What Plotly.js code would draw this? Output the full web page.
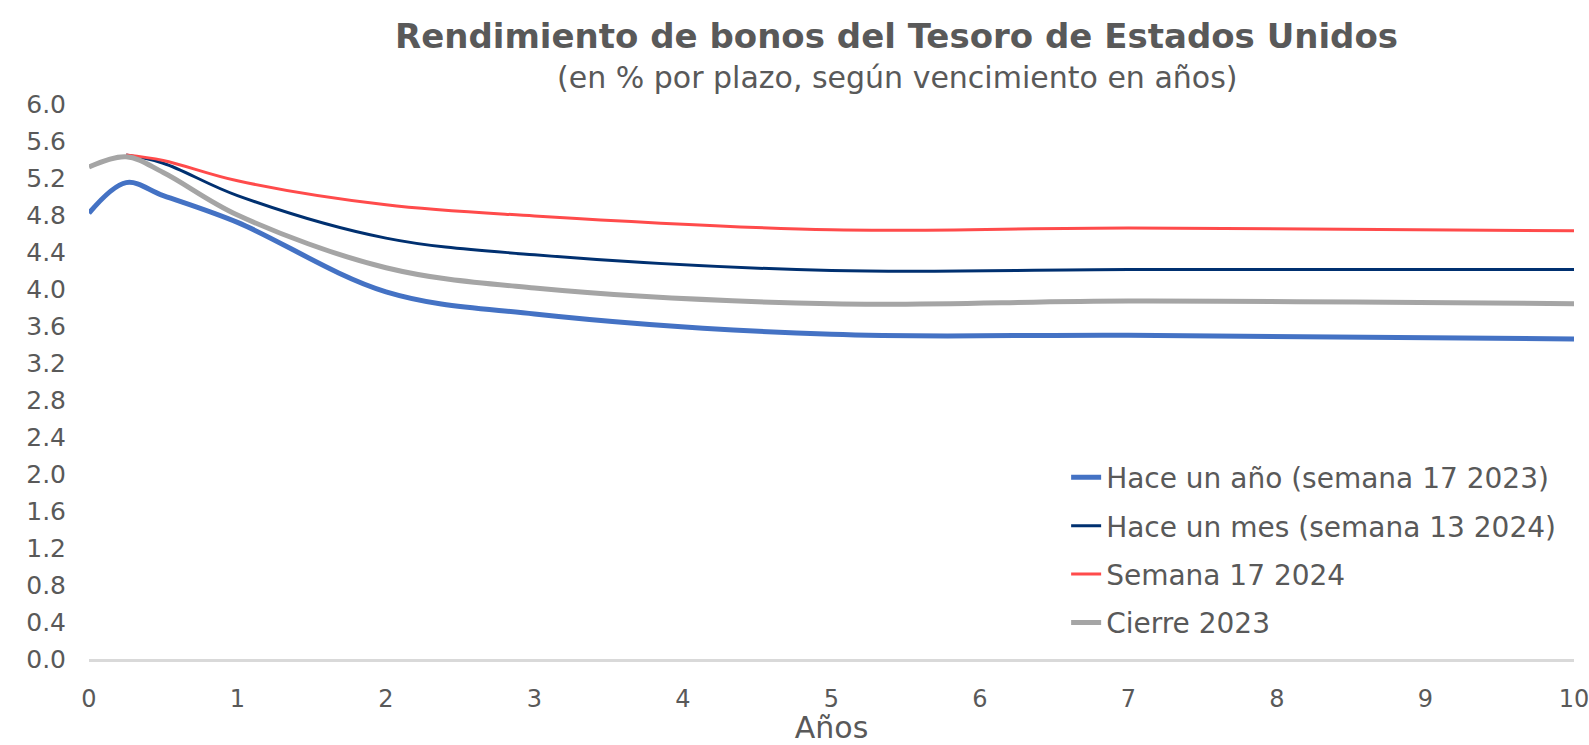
<!DOCTYPE html>
<html>
<head>
<meta charset="utf-8">
<script src="https://cdn.plot.ly/plotly-3.0.1.min.js"></script>
<style>html,body{margin:0;padding:0;background:#fff;}#chart{width:1589px;height:745px;}</style>
</head>
<body>
<div id="chart"></div>
<script>
// Plazos (años)
var plazosLargos = [0, 0.25, 0.5, 1, 2, 3, 5, 7, 10];
var plazosCortos = [0.25, 0.5, 1, 2, 3, 5, 7, 10];

// Rendimientos (%)
var haceUnAnio = [4.82, 5.15, 5.01, 4.72, 3.97, 3.73, 3.51, 3.50, 3.46];
var haceUnMes  = [5.45, 5.36, 5.01, 4.55, 4.37, 4.20, 4.21, 4.21];
var semana17   = [5.45, 5.39, 5.17, 4.91, 4.79, 4.64, 4.66, 4.63];
var cierre2023 = [5.32, 5.43, 5.26, 4.80, 4.23, 4.01, 3.84, 3.87, 3.84];

var nombres = ["Hace un año (semana 17 2023)", "Hace un mes (semana 13 2024)", "Semana 17 2024", "Cierre 2023"];
var xTicks = [0,1,2,3,4,5,6,7,8,9,10];

var txt = '#595959';
var fam = 'DejaVu Sans, sans-serif';

function tr(x, y, name, color, width, grp) {
  return {x: x, y: y, name: name, type: 'scatter', mode: 'lines', legendgroup: grp,
    line: {color: color, width: width, shape: 'spline', smoothing: 1}, hoverinfo: 'skip'};
}

var data = [
  tr(plazosLargos, haceUnAnio, nombres[0], '#4472C4', 5, 'a'),
  tr(plazosCortos, haceUnMes, nombres[1], '#003070', 3, 'b'),
  tr(plazosCortos, semana17, nombres[2], '#FF4B4B', 3, 'c'),
  tr(plazosLargos, cierre2023, nombres[3], '#A5A5A5', 5, 'd')
];

var T = 104, B = 659, H = B - T;
function py(Y) { return (B - Y) / H; }

var layout = {
  width: 1589, height: 745,
  margin: {l: 89, r: 15, t: 104, b: 86},
  paper_bgcolor: '#ffffff', plot_bgcolor: '#ffffff',
  font: {family: fam, color: txt},
  showlegend: true,
  legend: {x: 0.658, y: 0.372, xanchor: 'left', yanchor: 'top', traceorder: 'grouped',
    tracegroupgap: 9, font: {family: fam, size: 28, color: txt}, bgcolor: 'rgba(0,0,0,0)'},
  xaxis: {range: [0, 10], tickvals: xTicks, ticktext: xTicks.map(String), showgrid: false, zeroline: false,
    showline: true, linecolor: '#D9D9D9', linewidth: 3, ticks: '', ticklabelstandoff: 16,
    ticklabeloverflow: 'allow',
    tickfont: {family: fam, size: 24, color: txt},
    title: {text: 'Años', font: {family: fam, size: 30, color: txt}, standoff: 19}},
  yaxis: {range: [0, 6], dtick: 0.4, tick0: 0, tickformat: '.1f', showgrid: false, zeroline: false,
    showline: false, ticks: '', ticklabelstandoff: 22,
    tickfont: {family: fam, size: 25, color: txt}},
  annotations: [
    {text: 'Rendimiento de bonos del Tesoro de Estados Unidos', xref: 'paper', yref: 'paper',
     x: 0.544, y: py(36), xanchor: 'center', yanchor: 'middle', showarrow: false,
     font: {family: fam, size: 34, color: txt, weight: 'bold'}},
    {text: '(en % por plazo, según vencimiento en años)', xref: 'paper', yref: 'paper',
     x: 0.544, y: py(77), xanchor: 'center', yanchor: 'middle', showarrow: false,
     font: {family: fam, size: 30, color: txt}}
  ]
};

Plotly.newPlot('chart', data, layout, {displayModeBar: false, staticPlot: true});
</script>
</body>
</html>
